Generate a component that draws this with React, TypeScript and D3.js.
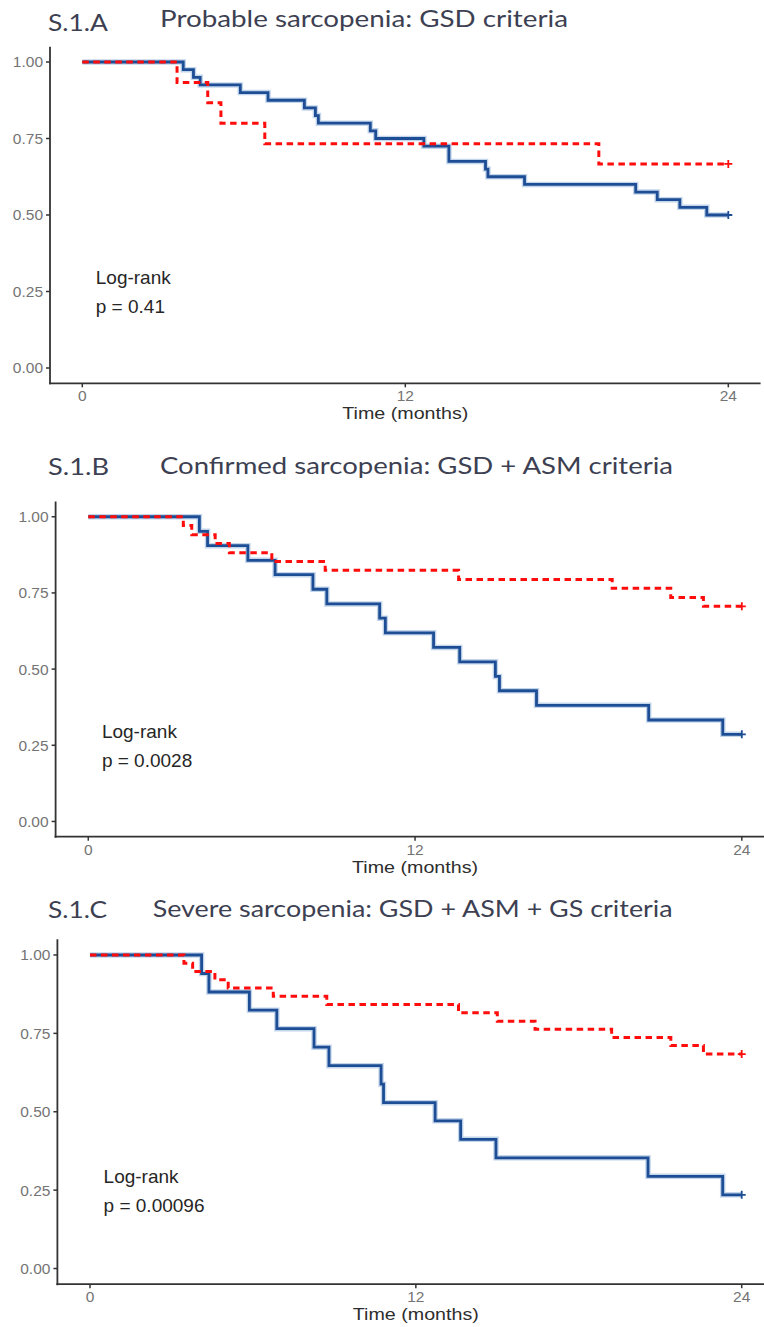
import React, { useEffect, useRef } from 'react';
import * as d3 from 'd3';

// tick values shared by all three panels
const yTicks = [0, 0.25, 0.5, 0.75, 1];
const yTickLabels = ['0.00', '0.25', '0.50', '0.75', '1.00'];
const xTicks = [0, 12, 24];

// S.1.A  Probable sarcopenia
const blueTimesA = [3.75, 4.13, 4.38, 5.87, 6.9, 8.25, 8.66, 8.77, 10.7, 10.9, 12.69, 13.62, 14.98, 15.07, 16.43, 20.56, 21.36, 22.2, 23.2];
const blueSurvA = [0.975, 0.95, 0.925, 0.9, 0.875, 0.85, 0.825, 0.8, 0.775, 0.75, 0.725, 0.675, 0.65, 0.625, 0.6, 0.575, 0.55, 0.525, 0.5];
const redTimesA = [3.52, 4.66, 5.15, 6.78, 19.19];
const redSurvA = [0.933, 0.867, 0.8, 0.733, 0.667];

// S.1.B  Confirmed sarcopenia
const blueTimesB = [4.08, 4.38, 5.86, 6.86, 8.25, 8.76, 10.7, 10.91, 12.68, 13.64, 14.95, 15.1, 16.46, 20.58, 23.3];
const blueSurvB = [0.952, 0.905, 0.857, 0.81, 0.762, 0.714, 0.667, 0.619, 0.571, 0.524, 0.476, 0.429, 0.381, 0.333, 0.286];
const redTimesB = [3.49, 3.8, 4.66, 5.18, 6.74, 8.7, 13.6, 19.24, 21.39, 22.59];
const redSurvB = [0.971, 0.941, 0.912, 0.882, 0.853, 0.824, 0.794, 0.765, 0.735, 0.706];

// S.1.C  Severe sarcopenia
const blueTimesC = [4.11, 4.38, 5.87, 6.88, 8.25, 8.8, 10.72, 10.81, 12.71, 13.65, 14.95, 20.55, 23.3];
const blueSurvC = [0.941, 0.882, 0.824, 0.765, 0.706, 0.647, 0.588, 0.529, 0.471, 0.412, 0.353, 0.294, 0.235];
const redTimesC = [3.46, 3.78, 4.6, 5.09, 6.75, 8.72, 13.57, 15.0, 16.39, 19.21, 21.39, 22.59];
const redSurvC = [0.974, 0.947, 0.921, 0.895, 0.868, 0.842, 0.816, 0.789, 0.763, 0.737, 0.711, 0.684];

const tags = ['S.1.A', 'S.1.B', 'S.1.C'];
const titles = [
  'Probable sarcopenia: GSD criteria',
  'Confirmed sarcopenia: GSD + ASM criteria',
  'Severe sarcopenia: GSD + ASM + GS criteria',
];
const pValues = ['p = 0.41', 'p = 0.0028', 'p = 0.00096'];

// layout of each panel (pixels)
const layout = [
  { left: 50, right: 760.6, top: 46.7, bottom: 383.3, tagY: 30.5, tagLen: 60, titleX: 160, titleY: 26.5, titleLen: 408 },
  { left: 55.6, right: 774.5, top: 501.5, bottom: 836.7, tagY: 475, tagLen: 61, titleX: 160, titleY: 474, titleLen: 513 },
  { left: 57.4, right: 774.3, top: 939.3, bottom: 1284.2, tagY: 918, tagLen: 59, titleX: 152.7, titleY: 917, titleLen: 520 },
];

const curves = [
  { blue: [blueTimesA, blueSurvA], red: [redTimesA, redSurvA] },
  { blue: [blueTimesB, blueSurvB], red: [redTimesB, redSurvB] },
  { blue: [blueTimesC, blueSurvC], red: [redTimesC, redSurvC] },
];

function stepPoints(times: number[], surv: number[]): [number, number][] {
  const pts: [number, number][] = [[0, 1]];
  times.forEach((t, i) => pts.push([t, surv[i]]));
  pts.push([24, surv[surv.length - 1]]);
  return pts;
}

export default function App() {
  const svgRef = useRef<SVGSVGElement | null>(null);

  useEffect(() => {
    document.body.style.margin = '0';
    const svg = d3.select(svgRef.current);
    svg.selectAll('*').remove();

    layout.forEach((L, i) => {
      const x = d3.scaleLinear().domain([-1.2, 25.2]).range([L.left, L.right]);
      const y = d3.scaleLinear().domain([-0.05, 1.05]).range([L.bottom, L.top]);
      const g = svg.append('g');

      // titles
      g.append('text')
        .attr('x', 48).attr('y', L.tagY)
        .attr('font-family', 'Lato, "Open Sans", sans-serif')
        .attr('font-size', 24)
        .attr('fill', '#3d3f52')
        .attr('textLength', L.tagLen)
        .attr('lengthAdjust', 'spacingAndGlyphs')
        .text(tags[i]);
      g.append('text')
        .attr('x', L.titleX).attr('y', L.titleY)
        .attr('font-family', 'Lato, "Open Sans", sans-serif')
        .attr('font-size', 24)
        .attr('fill', '#3d3f52')
        .attr('textLength', L.titleLen)
        .attr('lengthAdjust', 'spacingAndGlyphs')
        .text(titles[i]);

      // axes
      g.append('line')
        .attr('x1', L.left).attr('x2', L.left)
        .attr('y1', L.top).attr('y2', L.bottom + 1)
        .attr('stroke', '#333').attr('stroke-width', 1.8);
      g.append('line')
        .attr('x1', L.left - 1).attr('x2', Math.min(L.right, 764))
        .attr('y1', L.bottom).attr('y2', L.bottom)
        .attr('stroke', '#333').attr('stroke-width', 1.8);

      yTicks.forEach((v, k) => {
        g.append('line')
          .attr('x1', L.left - 4).attr('x2', L.left)
          .attr('y1', y(v)).attr('y2', y(v))
          .attr('stroke', '#333').attr('stroke-width', 1.5);
        g.append('text')
          .attr('x', L.left - 7).attr('y', y(v))
          .attr('dy', '0.35em')
          .attr('text-anchor', 'end')
          .attr('font-family', '"Liberation Sans", Arial, sans-serif')
          .attr('font-size', 15.5)
          .attr('fill', '#747474')
          .text(yTickLabels[k]);
      });
      xTicks.forEach((v) => {
        g.append('line')
          .attr('x1', x(v)).attr('x2', x(v))
          .attr('y1', L.bottom).attr('y2', L.bottom + 4)
          .attr('stroke', '#333').attr('stroke-width', 1.5);
        g.append('text')
          .attr('x', x(v)).attr('y', L.bottom + 18)
          .attr('text-anchor', 'middle')
          .attr('font-family', '"Liberation Sans", Arial, sans-serif')
          .attr('font-size', 15.5)
          .attr('fill', '#747474')
          .text(String(v));
      });
      g.append('text')
        .attr('x', x(12)).attr('y', L.bottom + 36)
        .attr('text-anchor', 'middle')
        .attr('font-family', '"Liberation Sans", Arial, sans-serif')
        .attr('font-size', 17)
        .attr('fill', '#2e2e2e')
        .attr('textLength', 126)
        .attr('lengthAdjust', 'spacingAndGlyphs')
        .text('Time (months)');

      const line = d3.line<[number, number]>()
        .x((d) => x(d[0]))
        .y((d) => y(d[1]))
        .curve(d3.curveStepAfter);

      const bluePts = stepPoints(curves[i].blue[0], curves[i].blue[1]);
      const redPts = stepPoints(curves[i].red[0], curves[i].red[1]);

      // blue: soft halo + solid line
      g.append('path')
        .attr('d', line(bluePts))
        .attr('fill', 'none')
        .attr('stroke', '#a9c3e3')
        .attr('stroke-opacity', 0.7)
        .attr('stroke-width', 5.5);
      g.append('path')
        .attr('d', line(bluePts))
        .attr('fill', 'none')
        .attr('stroke', '#1d4d94')
        .attr('stroke-width', 2.8);
      g.append('path')
        .attr('d', line(redPts))
        .attr('fill', 'none')
        .attr('stroke', '#ff0d0d')
        .attr('stroke-width', 3)
        .attr('stroke-dasharray', '6.5 4.5');

      // censor marks at the end
      const marks: [[number, number], string][] = [
        [bluePts[bluePts.length - 1], '#1d4d94'],
        [redPts[redPts.length - 1], '#ff0d0d'],
      ];
      marks.forEach(([p, c]) => {
        const cx = x(p[0]);
        const cy = y(p[1]);
        g.append('path')
          .attr('d', `M${cx - 4},${cy}H${cx + 4}M${cx},${cy - 4}V${cy + 4}`)
          .attr('stroke', c)
          .attr('stroke-width', 1.8);
      });

      // log-rank annotation
      g.append('text')
        .attr('x', x(0.5)).attr('y', y(0.295))
        .attr('dy', '0.35em')
        .attr('font-family', '"Liberation Sans", Arial, sans-serif')
        .attr('font-size', 19)
        .attr('fill', '#262626')
        .text('Log-rank');
      g.append('text')
        .attr('x', x(0.5)).attr('y', y(0.2))
        .attr('dy', '0.35em')
        .attr('font-family', '"Liberation Sans", Arial, sans-serif')
        .attr('font-size', 19)
        .attr('fill', '#262626')
        .text(pValues[i]);
    });
    // eslint-disable-next-line
  }, []);

  return (
    <svg ref={svgRef} width={764} height={1327} style={{ display: 'block', background: '#fff' }}></svg>
  );
}
